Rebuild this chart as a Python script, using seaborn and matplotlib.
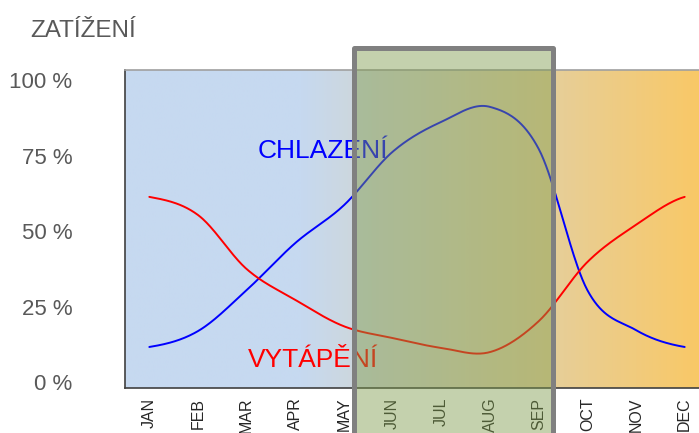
import numpy as np
import pandas as pd
import matplotlib
matplotlib.use("Agg")
import matplotlib.pyplot as plt
from matplotlib.patches import Rectangle
from matplotlib.colors import LinearSegmentedColormap
import seaborn as sns

months = ["JAN", "FEB", "MAR", "APR", "MAY", "JUN", "JUL", "AUG", "SEP", "OCT", "NOV", "DEC"]
cooling = [12.9, 17.9, 30.8, 45.6, 57.5, 74.3, 83.7, 88.4, 75.2, 30.8, 18.2, 12.9]
heating = [60.1, 54.4, 37.4, 27.7, 19.4, 15.7, 12.6, 11.3, 21.0, 39.6, 51.3, 60.1]
ytick_labels = ["0 %", "25 %", "50 %", "75 %", "100 %"]
ytick_pos = [2.0, 25.6, 49.3, 73.0, 96.8]


def smooth(vals, n=40):
    # catmull-rom, roughly what a "smoothed line" does
    y = np.asarray(vals, dtype=float)
    p = np.concatenate([[y[0]], y, [y[-1]]])
    xs, ys = [], []
    for i in range(len(y) - 1):
        t = np.linspace(0, 1, n, endpoint=(i == len(y) - 2))
        m1 = (p[i + 2] - p[i]) / 2
        m2 = (p[i + 3] - p[i + 1]) / 2
        h00 = 2 * t**3 - 3 * t**2 + 1
        h10 = t**3 - 2 * t**2 + t
        h01 = -2 * t**3 + 3 * t**2
        h11 = t**3 - t**2
        ys.append(h00 * p[i + 1] + h10 * m1 + h01 * p[i + 2] + h11 * m2)
        xs.append(i + t)
    return np.concatenate(xs), np.concatenate(ys)


sns.set_style("white")
plt.rcParams["font.family"] = ["Liberation Sans", "DejaVu Sans"]

W, H = 699, 433
fig = plt.figure(figsize=(W / 100, H / 100), dpi=100)
ax = fig.add_axes([125 / W, 45 / H, 584 / W, 318 / H])

# background gradient blue -> orange
cmap = LinearSegmentedColormap.from_list(
    "bg", [(0.0, "#C6D9F0"), (0.30, "#C6D9F0"), (1.0, "#FAC864")])
ax.imshow(np.linspace(0, 1, 400)[None, :], cmap=cmap, aspect="auto",
          extent=[-0.5, 11.5, 0, 100], zorder=0)

xc, yc = smooth(cooling)
xh, yh = smooth(heating)
df = pd.concat([
    pd.DataFrame({"x": xc, "y": yc, "k": "CHLAZENÍ"}),
    pd.DataFrame({"x": xh, "y": yh, "k": "VYTÁPĚNÍ"}),
])
sns.lineplot(data=df, x="x", y="y", hue="k", palette=["#0000FF", "#FF0000"],
             sort=False, estimator=None, lw=1.4, legend=False, ax=ax, zorder=3)

ax.set_xlim(-0.5, 11.5)
ax.set_ylim(0, 100)
ax.set_xlabel("")
ax.set_ylabel("")

ax.set_xticks(range(12))
ax.set_xticklabels(months, rotation=90, fontsize=11.5, color="#262626")
ax.set_xticks(np.arange(-0.5, 12, 1), minor=True)
ax.set_yticks(ytick_pos)
ax.set_yticklabels(ytick_labels, fontsize=16, color="#595959")
ax.set_yticks(np.arange(0, 101, 10), minor=True)
ax.tick_params(axis="x", which="major", length=0, pad=7)
ax.tick_params(axis="x", which="minor", length=5, width=1, color="#404040", direction="out")
ax.tick_params(axis="y", which="major", length=0, pad=38)
ax.tick_params(axis="y", which="minor", length=6, width=1, color="#404040", direction="out")

for s in ["left", "bottom"]:
    ax.spines[s].set_color("#404040")
    ax.spines[s].set_linewidth(1.2)
ax.spines["top"].set_color("#A0A0A0")
ax.spines["top"].set_linewidth(1.2)
ax.spines["right"].set_visible(False)

fig.text(30 / W, 1 - 37 / H, "ZATÍŽENÍ", fontsize=17.5, color="#595959", va="baseline")
fig.text(258 / W, 1 - 158 / H, "CHLAZENÍ", fontsize=19, color="#0000FF", va="baseline")
fig.text(248 / W, 1 - 367 / H, "VYTÁPĚNÍ", fontsize=19, color="#FF0000", va="baseline")

# summer highlight box
bx0, bx1, btop = 353.5, 552.5, 48.5
fig.patches.append(Rectangle((bx0 / W, -0.05), (bx1 - bx0) / W, 1 - btop / H + 0.05,
                             transform=fig.transFigure, facecolor=(126 / 255, 155 / 255, 75 / 255),
                             alpha=0.45, edgecolor="none", zorder=10))
fig.patches.append(Rectangle((bx0 / W, -0.05), (bx1 - bx0) / W, 1 - btop / H + 0.05,
                             transform=fig.transFigure, facecolor="none",
                             edgecolor="#808080", lw=3.6, joinstyle="round", zorder=11))

fig.savefig("out.png", dpi=100)
